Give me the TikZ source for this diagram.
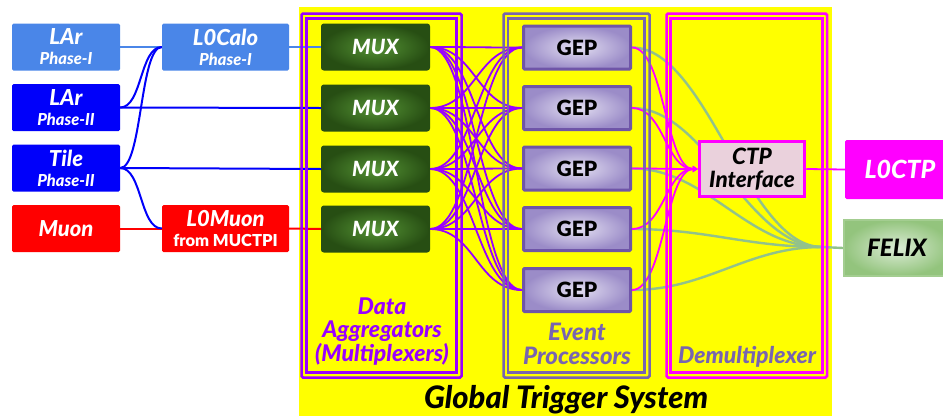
\documentclass[tikz,border=0pt]{standalone}
\usepackage{fontspec}
\setmainfont{Lato}[BoldFont={Lato Black}, BoldItalicFont={Lato Black Italic}]
\usetikzlibrary{arrows.meta}

\definecolor{calo}{RGB}{74,134,232}
\definecolor{deepblue}{RGB}{0,0,250}
\definecolor{muonred}{RGB}{255,0,0}
\definecolor{aggviolet}{RGB}{153,0,255}
\definecolor{epslate}{RGB}{120,100,176}
\definecolor{mag}{RGB}{255,0,255}
\definecolor{muxdark}{RGB}{39,78,19}
\definecolor{muxlight}{RGB}{84,146,52}
\definecolor{gepedge}{RGB}{111,85,168}
\definecolor{gepout}{RGB}{155,140,200}
\definecolor{gepin}{RGB}{228,224,242}
\definecolor{ctpfill}{RGB}{234,209,220}
\definecolor{felixout}{RGB}{147,196,125}
\definecolor{felixin}{RGB}{220,236,214}
\definecolor{felixline}{RGB}{146,194,138}
\definecolor{bgyellow}{RGB}{255,255,0}

\pgfdeclarelayer{back}
\pgfdeclarelayer{lines}
\pgfdeclarelayer{frames}
\pgfsetlayers{back,lines,frames,main}

\newcommand{\bigline}[1]{{\fontsize{22}{22}\selectfont\bfseries\itshape #1}}
\newcommand{\smallline}[1]{{\fontsize{16.5}{17}\selectfont\bfseries\itshape #1}}

\tikzset{
  srcbox/.style={rounded corners=1.5pt, minimum width=108pt, minimum height=47pt,
    inner sep=0pt, text=white, align=center, font=\fontsize{16}{20}\selectfont},
  muxbox/.style={draw=muxdark, line width=2pt, rounded corners=2pt,
    inner color=muxlight, outer color=muxdark, minimum width=107pt,
    minimum height=45pt, text=white, font=\fontsize{21}{22}\selectfont\bfseries\itshape},
  gepbox/.style={draw=gepedge, line width=3pt, rounded corners=1pt,
    inner color=gepin, outer color=gepout, minimum width=107pt,
    minimum height=43pt, text=black, font=\fontsize{21}{22}\selectfont\bfseries},
  feed/.style={line width=2pt},
  mesh/.style={aggviolet, line width=1.8pt},
  toctp/.style={mag, line width=1.8pt},
  tofelix/.style={felixline, line width=2.4pt},
  framebar/.style={line width=2.5pt},
  grouplabel/.style={align=center, font=\fontsize{23}{23.5}\selectfont\bfseries\itshape}
}

\begin{document}
\begin{tikzpicture}[x=1pt,y=-1pt]
\useasboundingbox (0,0) rectangle (943,416);

% yellow system area
\begin{pgfonlayer}{back}
\fill[bgyellow] (299,7) rectangle (832,416);
\end{pgfonlayer}

% ---------- detector sources ----------
\node[srcbox, fill=calo] (larI) at (66,47) {\bigline{LAr}\\\smallline{Phase-I}};
\node[srcbox, fill=deepblue] (larII) at (66,107.5) {\bigline{LAr}\\\smallline{Phase-II}};
\node[srcbox, fill=deepblue] (tile) at (66,168) {\bigline{Tile}\\\smallline{Phase-II}};
\node[srcbox, fill=muonred] (muon) at (66,228.5) {\bigline{Muon}};

\node[srcbox, fill=calo, minimum width=127pt] (lcalo) at (225.5,47)
  {\bigline{L0Calo}\\\smallline{Phase-I}};
\node[srcbox, fill=muonred, minimum width=127pt] (lmuon) at (225.5,228.5)
  {\bigline{L0Muon}\\{\fontsize{16.5}{17}\selectfont\bfseries from MUCTPI}};

% ---------- multiplexers and event processors ----------
\node[muxbox] (mux1) at (375.5,47) {MUX};
\node[muxbox] (mux2) at (375.5,108) {MUX};
\node[muxbox] (mux3) at (375.5,169) {MUX};
\node[muxbox] (mux4) at (375.5,229) {MUX};

\node[gepbox] (gep1) at (577,47.5) {GEP};
\node[gepbox] (gep2) at (577,108) {GEP};
\node[gepbox] (gep3) at (577,168.5) {GEP};
\node[gepbox] (gep4) at (577,229) {GEP};
\node[gepbox] (gep5) at (577,290) {GEP};

% ---------- outputs ----------
\node[draw=mag, line width=3.5pt, fill=ctpfill, minimum width=105pt, minimum height=55pt,
  inner sep=1pt, align=center, font=\fontsize{22.5}{23}\selectfont\bfseries\itshape] (ctp) at (752,169)
  {CTP\\Interface};
\node[fill=mag, rounded corners=1.5pt, minimum width=110pt, minimum height=59pt,
  text=white, font=\fontsize{25}{26}\selectfont\bfseries\itshape] (lctp) at (900,169.5) {L0CTP};
\node[draw=felixout!85!white, line width=2pt, inner color=felixin, outer color=felixout,
  minimum width=106pt, minimum height=56pt,
  font=\fontsize{24}{25}\selectfont\bfseries\itshape] (felix) at (897,248) {FELIX};

\coordinate (fx) at (822,247);

% ---------- connectors ----------
\begin{pgfonlayer}{lines}
\draw[feed, calo] (larI.east) -- (lcalo.west);
\draw[feed, calo] (lcalo.east) -- (mux1.west);
\draw[feed, muonred] (muon.east) -- (lmuon.west);
\draw[feed, muonred] (lmuon.east) -- (mux4.west);
\draw[feed, deepblue] (larII.east) -- (mux2.west);
\draw[feed, deepblue] (tile.east) -- (mux3.west);
\draw[feed, deepblue] (larII.east) .. controls +(22,0) and +(-22,0) .. (lcalo.west);
\draw[feed, deepblue] (tile.east) .. controls +(22,0) and +(-22,0) .. (lcalo.west);
\draw[feed, deepblue] (tile.east) .. controls +(22,0) and +(-22,0) .. (lmuon.west);

\foreach \m in {1,...,4}
  \foreach \g in {1,...,5}
    \draw[mesh] (mux\m.east) .. controls +(45,0) and +(-45,0) .. (gep\g.west);

\foreach \g in {1,...,5}
  \draw[tofelix] (gep\g.east) .. controls +(75,0) and +(-75,0) .. (fx);
\draw[tofelix] (fx) -- (felix.west);

\foreach \g in {1,...,5}
  \draw[toctp, -{Triangle[length=5pt,width=6pt]}] (gep\g.east) .. controls +(32,0) and +(-32,0) .. (ctp.west);
\draw[toctp] (ctp.east) -- (lctp.west);
\end{pgfonlayer}

% ---------- group frames ----------
\begin{pgfonlayer}{frames}
\draw[framebar, aggviolet, rounded corners=1.5pt] (301.5,13.5) rectangle (461.5,377.5);
\draw[framebar, aggviolet] (306.5,18.5) rectangle (456.5,372.5);
\draw[framebar, epslate, rounded corners=1.5pt] (503.5,13.5) rectangle (649.5,377.5);
\draw[framebar, epslate] (508,18.5) rectangle (644.5,372.5);
\draw[framebar, mag, rounded corners=1.5pt] (666.5,13.5) rectangle (827,377.5);
\draw[framebar, mag] (670.5,18.5) rectangle (822.5,372.5);
\end{pgfonlayer}

% ---------- labels ----------
\node[grouplabel, text=aggviolet] (lblagg) at (382,331.5) {Data\\Aggregators\\(Multiplexers)};
\node[grouplabel, text=epslate, font=\fontsize{24}{23.5}\selectfont\bfseries\itshape] (lblep) at (577,344) {Event\\Processors};
\node[grouplabel, text=epslate] (lbldemux) at (747,356.5) {Demultiplexer};
\node[font=\fontsize{31}{32}\selectfont\bfseries\itshape] (lblsys) at (566,400) {Global Trigger System};
\end{tikzpicture}
\end{document}
